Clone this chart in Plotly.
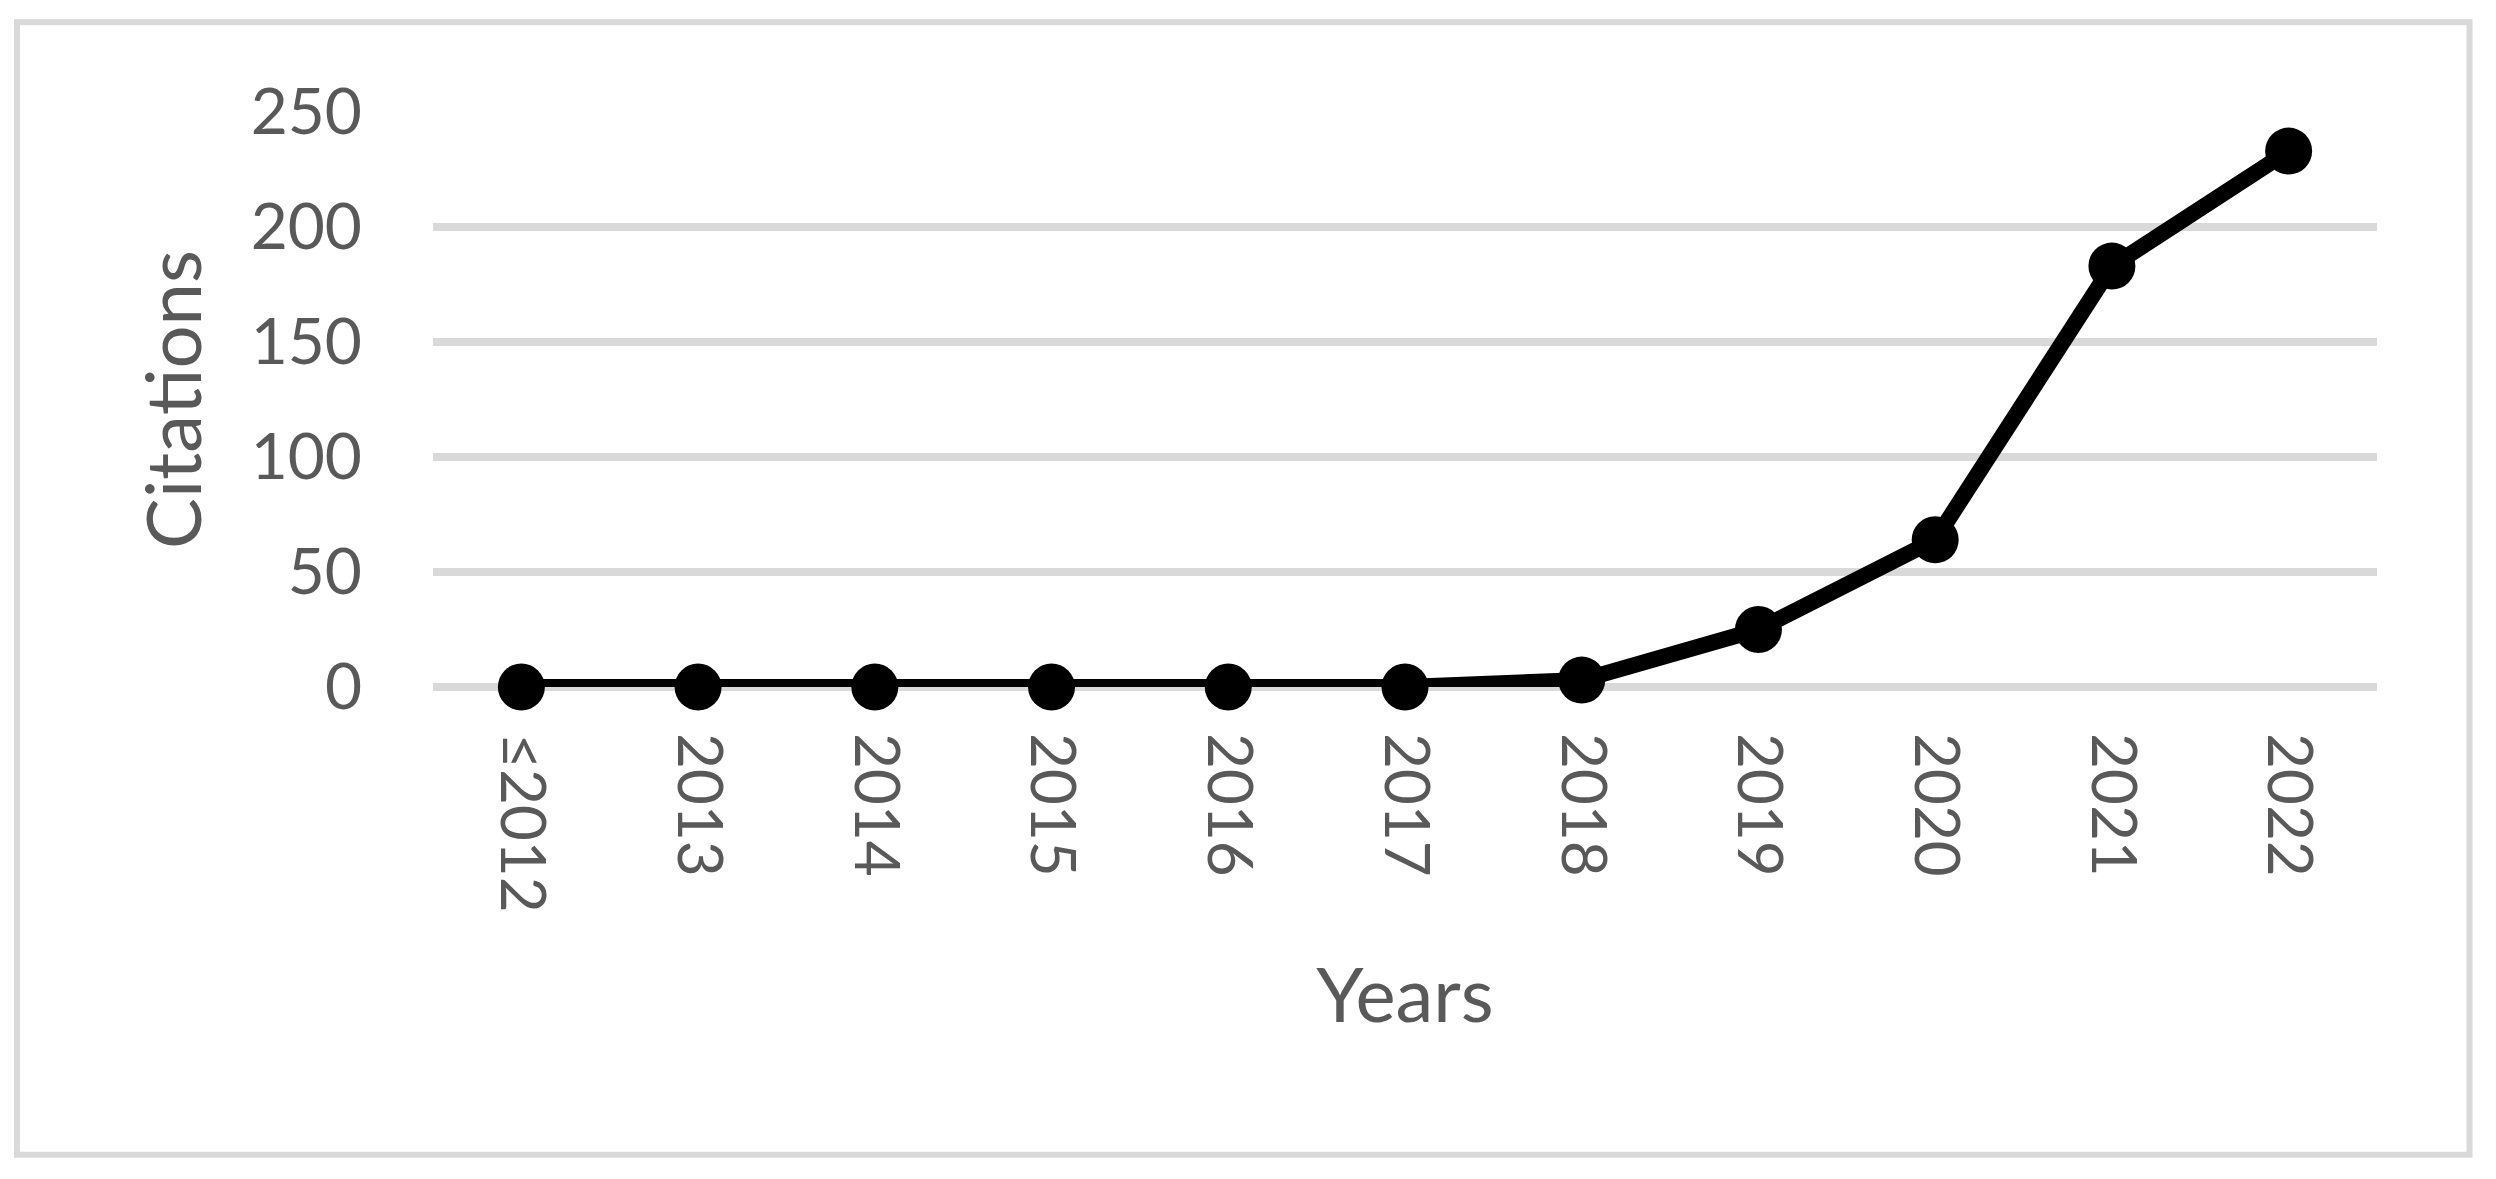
import plotly.graph_objects as go

years = ["≤2012", "2013", "2014", "2015", "2016", "2017", "2018", "2019", "2020", "2021", "2022"]
citations = [0, 0, 0, 0, 0, 0, 3, 25, 64, 183, 233]
y_ticks = [0, 50, 100, 150, 200, 250]

OFF = 8  # default page body margin
W, H = 2496 - OFF, 1179 - OFF
L, R, T, B = 433 - OFF, 2377 - OFF, 111.5 - OFF, 687.5 - OFF  # plot area in figure pixels
FONT = "Lato, 'Noto Sans', sans-serif"
TXT = "#595959"
GRID = "#d9d9d9"

fig = go.Figure()
fig.add_trace(go.Scatter(
    x=years, y=citations, mode="lines+markers",
    line=dict(color="black", width=16),
    marker=dict(color="black", size=47),
    cliponaxis=False, showlegend=False,
))

pw, ph = R - L, B - T
def px_x(p):
    return (p - OFF - L) / pw
def px_y(p):
    return (B - (p - OFF)) / ph

fig.add_shape(type="rect", xref="paper", yref="paper",
              x0=px_x(17), x1=px_x(2469.5), y0=px_y(1156), y1=px_y(21.5),
              line=dict(color=GRID, width=6), fillcolor="rgba(0,0,0,0)", layer="below")

fig.update_layout(
    width=W, height=H,
    margin=dict(l=L, r=W - R, t=T, b=H - B, autoexpand=False),
    paper_bgcolor="white", plot_bgcolor="white",
    font=dict(family=FONT, color=TXT),
    xaxis=dict(
        type="category", range=[-0.5, len(years) - 0.5],
        tickangle=90, tickfont=dict(size=62, color=TXT, family=FONT),
        ticklabelstandoff=45, showgrid=False, showline=False, zeroline=False, ticks="",
        title=dict(text="Years", font=dict(size=76, color=TXT, family=FONT), standoff=56),
    ),
    yaxis=dict(
        range=[0, 250], tickvals=y_ticks, ticktext=[str(v) for v in y_ticks],
        tickfont=dict(size=64, color=TXT, family=FONT),
        ticklabelstandoff=70,
        showgrid=True, gridcolor=GRID, gridwidth=8,
        zeroline=True, zerolinecolor=GRID, zerolinewidth=8, showline=False, ticks="",
        title=dict(text="Citations", font=dict(size=76, color=TXT, family=FONT), standoff=24),
    ),
)

fig.write_html("out.html")
